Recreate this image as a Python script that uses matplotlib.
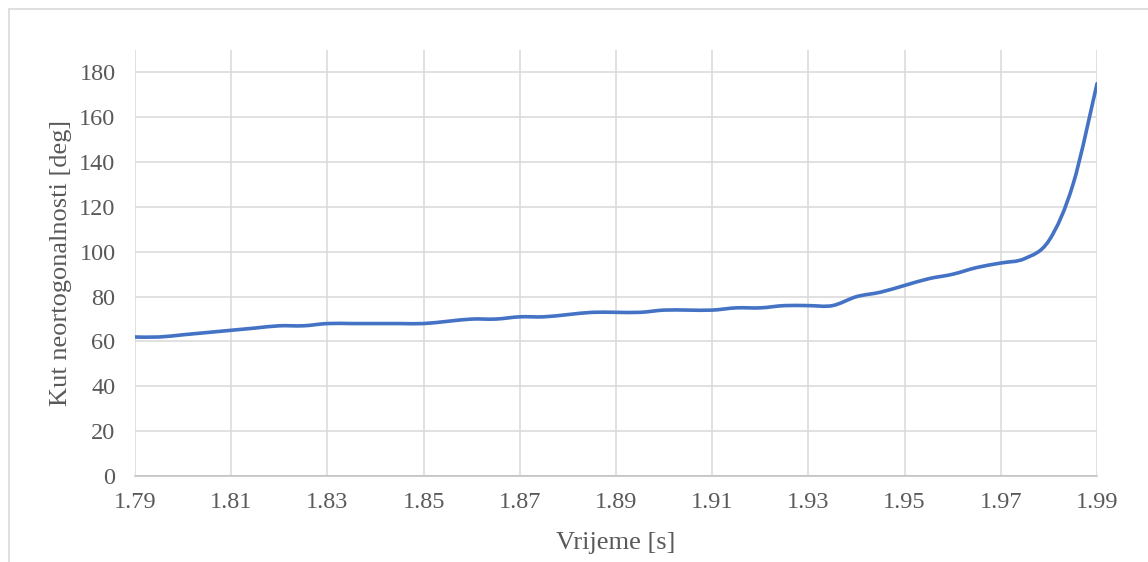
import numpy as np
import matplotlib
matplotlib.use('Agg')
import matplotlib.pyplot as plt
from matplotlib.path import Path
from matplotlib.patches import PathPatch, Rectangle

# Vrijeme [s] i kut neortogonalnosti [deg]
vrijeme = [1.790, 1.795, 1.800, 1.805, 1.810, 1.815, 1.820, 1.825, 1.830, 1.835,
           1.840, 1.845, 1.850, 1.855, 1.860, 1.865, 1.870, 1.875, 1.880, 1.885,
           1.890, 1.895, 1.900, 1.905, 1.910, 1.915, 1.920, 1.925, 1.930, 1.935,
           1.940, 1.945, 1.950, 1.955, 1.960, 1.965, 1.970, 1.975, 1.980, 1.985,
           1.990]
kut = [62, 62, 63, 64, 65, 66, 67, 67, 68, 68,
       68, 68, 68, 69, 70, 70, 71, 71, 72, 73,
       73, 73, 74, 74, 74, 75, 75, 76, 76, 76,
       80, 82, 85, 88, 90, 93, 95, 97, 105, 130,
       175]
x_ticks = [1.79, 1.81, 1.83, 1.85, 1.87, 1.89, 1.91, 1.93, 1.95, 1.97, 1.99]
y_ticks = [0, 20, 40, 60, 80, 100, 120, 140, 160, 180]

plt.rcParams['font.family'] = ['Liberation Serif', 'DejaVu Serif']

fig = plt.figure(figsize=(11.48, 5.62), dpi=100)
ax = fig.add_axes([0.1176, 0.153, 0.838, 0.758])

# okvir grafikona kao u Excelu
fig.patches.append(Rectangle((9 / 1148, -0.1), 1.2, 1 - 9 / 562 + 0.1, transform=fig.transFigure,
                             fill=False, edgecolor='#d9d9d9', linewidth=1.2))

# glatka linija (Bezier kao Excel "smoothed line")
pts = np.column_stack([vrijeme, kut]).astype(float)
verts = [pts[0]]
codes = [Path.MOVETO]
n = len(pts)
for i in range(n - 1):
    p_prev = pts[i - 1] if i > 0 else pts[i]
    p_next2 = pts[i + 2] if i + 2 < n else pts[i + 1]
    c1 = pts[i] + (pts[i + 1] - p_prev) / 6
    c2 = pts[i + 1] - (p_next2 - pts[i]) / 6
    verts += [c1, c2, pts[i + 1]]
    codes += [Path.CURVE4] * 3
ax.add_patch(PathPatch(Path(verts, codes), fill=False, edgecolor='#4472C4',
                       linewidth=2.6, capstyle='round', joinstyle='round', zorder=3))

ax.set_xlim(1.79, 1.99)
ax.set_ylim(0, 190)
ax.set_xticks(x_ticks)
ax.set_xticklabels([f'{v:.2f}' for v in x_ticks])
ax.set_yticks(y_ticks)
ax.grid(True, color='#d9d9d9', linewidth=1.1)
ax.set_axisbelow(True)
for s in ['top', 'right', 'left']:
    ax.spines[s].set_visible(False)
ax.spines['bottom'].set_color('#bfbfbf')
ax.spines['bottom'].set_linewidth(1.1)
ax.tick_params(length=0, labelsize=17.5, colors='#595959')
ax.tick_params(axis='x', pad=11.5)
ax.tick_params(axis='y', pad=14)
ax.set_xlabel('Vrijeme [s]', fontsize=19, color='#595959', labelpad=14)
ax.set_ylabel('Kut neortogonalnosti [deg]', fontsize=19, color='#595959', labelpad=5)

fig.savefig('out.png', dpi=100)
